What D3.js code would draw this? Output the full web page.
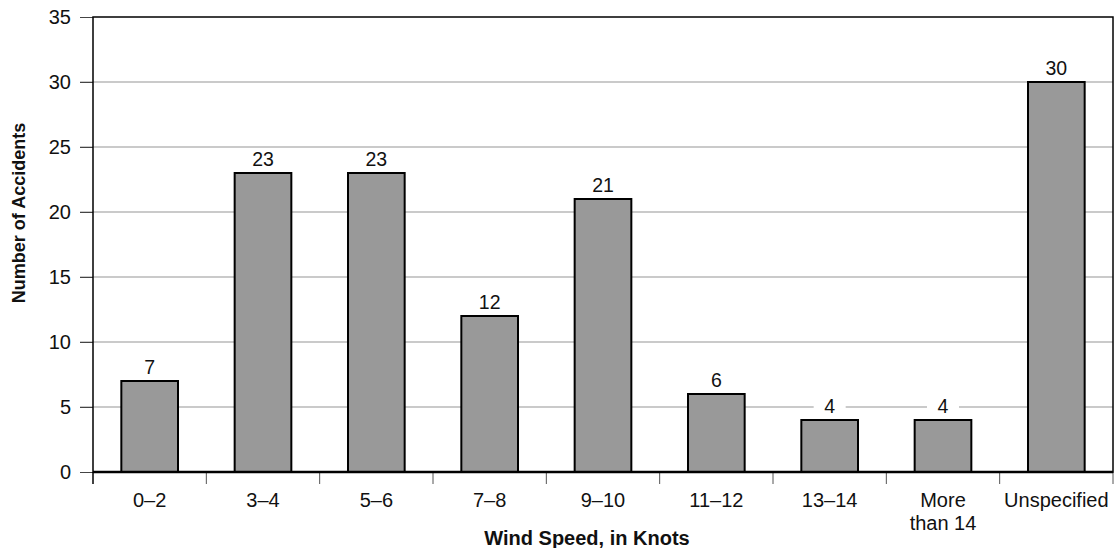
<!DOCTYPE html>
<html><head><meta charset="utf-8">
<script src="https://cdn.jsdelivr.net/npm/d3@7"></script>
<style>body{margin:0;background:#fff}svg{display:block}text{font-family:"Liberation Sans",Arial,sans-serif}</style>
</head><body>
<svg id="c" width="1115" height="548"></svg>
<script>
const categories = ["0–2","3–4","5–6","7–8","9–10","11–12","13–14","More than 14","Unspecified"];
const values = [7,23,23,12,21,6,4,4,30];
const yTicks = [0,5,10,15,20,25,30,35];

const svg = d3.select("#c");
const L = 93, R = 1113, T = 17, B = 472;
const x = d3.scaleBand().domain(categories).range([L, R]).paddingInner(0.5).paddingOuter(0.25);
const y = d3.scaleLinear().domain([0, 35]).range([B, T]);

// gridlines
svg.append("g").selectAll("line").data(yTicks.filter(d => d > 0 && d < 35)).join("line")
  .attr("x1", L - 13).attr("x2", R).attr("y1", d => y(d)).attr("y2", d => y(d))
  .attr("stroke", "#959595").attr("stroke-width", 1);

// y axis
const yAxis = svg.append("g").attr("transform", `translate(${L},0)`)
  .call(d3.axisLeft(y).tickValues(yTicks).tickSize(13).tickPadding(9));
yAxis.select(".domain").remove();
yAxis.selectAll(".tick line").attr("stroke", "#444");
yAxis.selectAll(".tick text").attr("font-size", 20).attr("fill", "#111")
  .style("font-family", '"Liberation Sans", Arial, sans-serif');

// bars
svg.append("g").selectAll("rect").data(values).join("rect")
  .attr("x", (d, i) => x(categories[i]))
  .attr("y", d => y(d))
  .attr("width", x.bandwidth())
  .attr("height", d => B - y(d))
  .attr("fill", "#999999").attr("stroke", "#000").attr("stroke-width", 2);

// value labels with white background
const lg = svg.append("g").selectAll("g").data(values).join("g")
  .attr("transform", (d, i) => `translate(${x(categories[i]) + x.bandwidth() / 2},${y(d) - 7})`);
lg.append("rect").attr("x", -16).attr("y", -16).attr("width", 32).attr("height", 17).attr("fill", "#fff");
lg.append("text").attr("text-anchor", "middle").attr("font-size", 19.5).attr("fill", "#111").text(d => d);

// x ticks at boundaries
const step = x.step();
const bounds = d3.range(categories.length + 1).map(i => L + i * step);
svg.append("g").selectAll("line").data(bounds).join("line")
  .attr("x1", d => d).attr("x2", d => d).attr("y1", B).attr("y2", B + 12)
  .attr("stroke", (d, i) => i === 0 ? "#000" : "#555").attr("stroke-width", (d,i)=> i===0?1.5:1);

// x labels
svg.append("g").selectAll("text").data(categories).join("text")
  .attr("x", d => x(d) + x.bandwidth() / 2).attr("y", 507)
  .attr("text-anchor", "middle").attr("font-size", 20).attr("fill", "#111")
  .each(function(d) {
    const t = d3.select(this);
    if (d === "More than 14") {
      t.append("tspan").attr("x", t.attr("x")).attr("dy", 0).text("More");
      t.append("tspan").attr("x", t.attr("x")).attr("dy", 23).text("than 14");
    } else t.text(d);
  });

// frame
svg.append("rect").attr("x", L).attr("y", T).attr("width", R - L).attr("height", B - T)
  .attr("fill", "none").attr("stroke", "#000").attr("stroke-width", 1.5);
svg.append("line").attr("x1", L).attr("x2", R).attr("y1", B).attr("y2", B)
  .attr("stroke", "#000").attr("stroke-width", 2.5);

// titles
svg.append("text").attr("x", 587).attr("y", 545).attr("text-anchor", "middle")
  .attr("font-size", 20).attr("font-weight", "bold").attr("fill", "#111").text("Wind Speed, in Knots");
svg.append("text").attr("transform", `translate(25,213) rotate(-90)`).attr("text-anchor", "middle")
  .attr("font-size", 18).attr("font-weight", "bold").attr("fill", "#111").text("Number of Accidents");
</script>
</body></html>
